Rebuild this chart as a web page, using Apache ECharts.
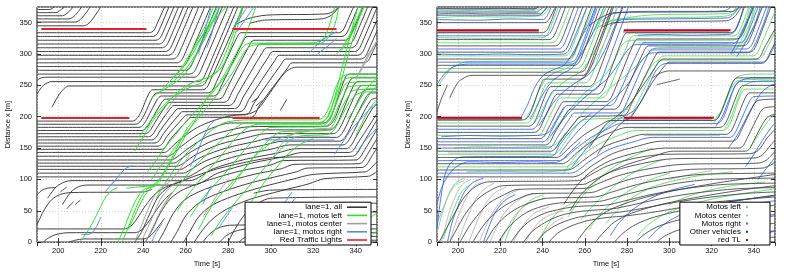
<!DOCTYPE html>
<html><head><meta charset="utf-8">
<script src="https://cdn.jsdelivr.net/npm/echarts@6/dist/echarts.min.js"></script>
<style>html,body{margin:0;padding:0;background:#fff}#c{width:789px;height:273px}</style>
</head><body><div id="c"></div>
<script>
// ---------- LEFT PANEL (lane=1) : trajectories as [t,x,t,x,...] ----------
const leftAll = [
[190,371,196,371,198,375],[190,366,199,366,201,370,203,375],[190,361,202,361,204.5,366,207,375],
[190,356,205,356,208,362,211,375],[190,351,208,351,211,357,215,375],[190,345,212,345,215,351,220,375],
[190,334,243,334,245,338,247,352,250,375],[190,328,244.5,328,246.5,332,248.5,346,252.1,375],
[190,322,246,322,248,326,250,340,254.4,375],[190,316,247.5,316,249.5,320,251.5,334,256.6,375],
[190,310,249,310,251,314,253,328,258.9,375],[190,304,250.5,304,252.5,308,254.5,322,261.1,375],
[190,298,252,298,254,302,256,316,263.4,375],[190,292,254,292,256,296,258,310,266.1,375],
[190,286,256,286,258,290,260,304,268.9,375],[190,280,258,280,260,284,262,298,271.6,375],
[190,274,260,274,262,278,264,292,274.4,375],[190,268,262,268,264,272,266,286,277.2,375],
[190,258,192,262,195,263,264,263,266,267,268,281,279.8,375],
[190,236,193,250,197,256,266,256,268,260,270,274,282.6,375],
[197,215,201,238,205,249,267,249,269,253,271,267,284.5,375],
[190,193,235,193,237,197,239,208,242.5,236,244.5,243,268,243,270,247,272,261,287,375],
[190,188,236.5,188,238.5,192,240.5,203,244.5,232,246.5,238,270.5,238,272.5,242,274.5,256,284,326,286,334,332,334,334,338,336,352,338.9,375],
[190,183,238,183,240,187,242,198,246.5,227,248.5,233,273,233,275,237,277,251,287,320,289,328,333.5,328,335.5,332,337.5,346,341.1,375],
[190,178,239.5,178,241.5,182,243.5,193,248.5,222,250.5,228,275.5,228,277.5,232,279.5,246,290,314,292,322,335,322,337,326,339,340,343.4,375],
[190,173,241,173,243,177,245,188,250.5,217,252.5,223,278,223,280,227,282,241,293,308,295,316,336.5,316,338.5,320,340.5,334,345.6,375],
[190,168,242.5,168,244.5,172,246.5,183,252.5,212,254.5,218,280.5,218,282.5,222,284.5,236,296,302,298,310,338,310,340,314,342,328,347.9,375],
[190,163,244,163,246,167,248,178,254.5,207,256.5,213,283,213,285,217,287,231,299,296,301,304,339.5,304,341.5,308,343.5,322,350.1,375],
[190,158,245.5,158,247.5,162,249.5,173,256.5,202,258.5,208,285.5,208,287.5,212,289.5,226,302,290,304,298,341,298,343,302,345,316,350,354],
[190,153,247,153,249,157,251,168,258.5,197,260.5,203,288,203,290,207,292,221,305,284,307,292,342.5,292,344.5,296,346.5,310,350,337],
[190,148,248.5,148,250.5,152,252.5,163,260.5,193,262.5,199,290.5,199,292.5,203,294.5,217,308,278,310,286,344,286,346,290,348,304,350,318],
[190,143,250,143,252,147,256,160,264,180,270,190,276,197,282,202,290,205,294,212,300,240,306,268,309,276,312,279,350,279],
[190,137,251.5,137,254,141,258,153,266,172,274,184,281,190,325,190,327,194,329,205,335,262,337,268,350,268],
[190,131,253,131,256,136,261,149,270,168,280,178,290,184,326.5,185,328.5,189,330.5,200,337,256,339,262,350,262],
[190,126,254.5,126,257,131,263,145,273,162,284,172,294,179,328,179,330,183,332,194,339,250,341,256,350,256],
[190,121,256,121,259,126,265,140,276,156,288,166,298,173,329.5,173,331.5,177,333.5,188,341,244,343,250,350,250],
[190,116,257.5,116,260.5,121,267,135,279,150,292,160,302,167,331,167,333,171,335,182,343,238,345,244,350,244],
[190,110,259,110,262,115,269,129,282,144,296,154,306,161,332.5,161,334.5,165,336.5,176,345,232,347,238,350,238],
[190,104,260.5,104,264,109,271,123,285,138,300,148,309,155,334,155,336,159,338,170,347,226,350,230],
[195,70,199,88,203,96,206,98,262,98,266,103,273,117,288,132,303,142,312,149,335.5,149,337.5,153,339.5,164,348,214,350,220],
[202,60,206,80,210,89,214,91,264,91,268,96,275,110,291,126,306,136,315,143,337,143,339,147,341,158,350,205],
[236,0,239,15,243,45,247,72,252,88,260,100,275,117,292,130,302,135,338.5,137,340.5,141,342.5,152,350,195],
[241,0,244,18,248,46,253,70,259,84,270,98,285,113,300,123,306,130,340,131,342,135,344,146,350,180],
[247,0,250,18,254,45,259,66,266,80,278,95,292,108,305,117,311,124,341.5,125,343.5,129,345.5,140,350,165],
[253,0,256,17,260,42,266,62,274,76,288,92,302,104,312,112,317,118,343,119,345,123,347,134,350,150],
[259,0,262,17,266,40,272,58,282,73,296,88,310,100,320,108,344.5,112,346.5,116,350,128],
[264,0,267,15,272,35,279,52,290,68,305,82,318,93,325,101,346,105,348,108,350,113],
[268,0,271,12,275,22,281,27,350,28],[276,0,279,10,283,17,289,21,350,21],
[285,0,288,8,292,13,297,15,350,15],[294,0,297,5,301,8,350,9],[303,0,306,2,310,3,350,3],
[280,0,283,20,288,45,294,62,300,70,350,72],[288,0,291,18,296,40,302,54,308,60,350,62],
[296,0,299,15,304,32,310,42,316,47,350,48],[292,78,300,83,350,84],
[190,21,231,21,234,25,237,37,241,58,246,78,252,90,258,96],
[193,0,196,8,200,13,205,15,236,15,239,19,242,30,246,50,250,68,254,80],
[205,0,208,3,212,5,240,5,243,9,246,20,250,38],
[190,28,193.5,52,197,68,201,76,206,79,240,80,244,84],
[190,75,192,82,195,86,199,87],
[201,80,204,88],[204,53,207.3,65],[208,60,210.4,67],[291,223,294.3,231],[293,217,296,226],[304.5,210,307.6,228],
[283,346,289,356,298,362,326,364,330,369,332,375],[290,349,297,354,324,356,329,363,332,375]
];
const leftMotoLeft = [
[210,0,214,18,218,43,222,70,225,82,228,87],
[228,0,231,22,234,48,237,70,240,83,243,88,247,98,252,125,257,158,261,183,264,195],
[230,0,233,24,236,50,239,72,242,85,246,92,250,110,255,140,260,170,265,198,270,230,276,255,282,290,288,330,293,375],
[233,20,236,42,240,70,244,87,248,92],
[236,145,239,162,242,180,245,196,249,212,253,228,258,244,264,256,270,262,276,275,280,300,284,340,287,375],
[238,168,241,182,245,200,250,220,256,236,262,247,268,255,274,270,278,295,282,330,285,360,286.5,375],
[242,112,246,130,250,150,255,170,260,192,266,214,272,236,278,262,283,290,287,312,290,317,320,318,324,322,327,340,330,375],
[244,100,248,120,253,142,258,165,264,190,270,215,276,240,282,270,287,300,290,312,295,315,322,316,326,322,330,345,332,375],
[246,70,250,92,255,118,260,140,266,160,272,178,278,190,284,194,290,195,322,195,325,200,328,220,331,250,334,265,340,268,350,268],
[250,60,254,80,259,100,264,120,270,140,276,160,282,178,288,190,323,191,326,197,329,218,332,245,335,260,340,263,350,263],
[256,50,260,70,265,92,270,112,276,135,282,160,288,180,294,188,324,188,327,194,330,215,333,238,336,254,350,256],
[262,40,266,60,271,82,277,104,283,128,289,152,295,172,300,183,325,184,328,190,331,210,334,232,337,248,350,250],
[266,20,270,45,275,70,281,92,287,115,293,140,299,162,305,176,326,178,329,185,332,205,336,230,339,242,350,244],
[272,10,276,32,282,58,288,82,294,106,300,130,306,152,312,168,327,172,330,180,334,205,338,228,342,238,350,240],
[248,240,252,255,256,268,260,284,264,305,268,330,272,355,275,375],
[252,250,256,262,260,276,264,295,268,318,272,345,276,375],
[244,230,248,240,252,248,258,262,262,280,266,305,270,335,274,362,276,375],
[324,190,327,200,330,230,333,270,336,310,339,350,341,375],
[325,186,328,196,331,228,334,268,337,305,340,340,343,375],
[331,300,334,312,337,330,340,352,343,375],[333,305,336,318,339,338,342,360,344,375],
[336,196,339,210,342,228,345,244,348,256,350,262],[338,190,341,205,344,222,347,238,350,250],
[340,170,343,190,346,210,350,228],[337,0,340,15,344,30,348,42,350,46],[345,0,348,12,350,18],
[280,82,284,100,288,118,292,135,297,150,302,162,310,172,318,177],
[290,60,294,80,298,100,303,120,308,140,314,156,320,165],
[232,86,238,88,244,90,248,92],
[262,300,266,320,270,340,275,360,279,375],[254,262,258,278,262,300,266,325,270,350,273,375]
];
const leftMotoCenter = [
[236,0,239,25,242,50,245,72,248,86,252,95,257,115,262,140],
[239,0,242,22,245,45,248,68,252,85,256,98],
[241,0,244,20,247,42,250,62,254,80],
[268,40,272,60,276,82,280,100],
[298,120,302,140,306,160,312,175,320,180,330,182],
[340,260,343,280,346,300,350,320],[342,270,345,290,348,310,350,322],
[251,210,254,225,258,240,262,252,266,258],
[300,168,328,168]
];
const leftMotoRight = [
[211,12,215,13,218,25,220,40],[226,95,229,108,232,118,235,122],[222,80,225,92,227,100],
[244,0,246,15,249,30],[262,120,265,140,268,165,271,185,274,195],
[266,300,268,325,270,350,272,375],[270,310,272,330,274,355,276,375],
[282,340,285,355,288,370,289,375],[284,335,287,350,290,365,292,375],
[318,302,321,312,324,322,328,330,331,336],[322,300,325,308,328,316,331,325],
[298,20,302,40,306,60,310,80],[300,15,304,35,308,55,312,72],
[297,163,330,163],[330,140,334,160,338,180,342,195,346,210,350,222],
[340,140,344,160,348,175,350,182],[340,0,343,10,346,18],
[276,25,279,40,282,55],[268,60,270,75,272,90]
];
const leftRedLights = [[192,198,233.5,198],[282,198,323,198],[192,340,241.5,340],[282,340,331,340]];

// ---------- RIGHT PANEL ----------
const rightMotoLeft = [
[190,370,200,369,212,370,225,369,237,370,239,375],
[190,358,205,360,220,359,235,360,240,362,242,368,243,375],
[190,318,244.5,318,246.5,322,248.5,336,253,375],
[190,297,250.5,297,252.5,301,254.5,315,261,375],
[190,277,256.5,277,258.5,281,260.5,295,270,375],
[190,246,194,266,198,280,205,288,252,289,254,293,256,307,264,375],
[190,326,215,325,240,326,242,330,244,345,247.5,375],
[190,190,232.3,190,234.3,194,236.3,207,240.5,245,242.5,254,260,254,262,258,264,272,275.5,375],
[190,170,237.5,170,239.5,174,241.5,187,246.5,222,248.5,230,268,230,270,234,272,248,281,321,283,329,330.5,329,332.5,333,334.5,347,337.5,375],
[190,140,245.3,140,247.3,144,250,157,256,185,259,195,280,198,282,202,284,216,295,290,297,297,339.5,297,341.5,301,343.5,315,350,368],
[190,120,250.5,120,253.5,124,258,137,267,157,276,170,284,178,325.5,178,327.5,182,329.5,195,334,237,336,244,350,244],
[232,196,235,215,238,240,242,262,247,272,252,278,256,290,260,310,264,335,268,360,270,375],
[236,190,239,205,243,230,248,250,253,262,258,272,262,290,266,315,270,345,273,375],
[242,160,246,180,250,200,255,220,260,238,265,252,270,268,274,290,278,316,282,322,330,322,333,330,336,350,338,375],
[246,150,250,168,255,190,260,210,266,228,272,246,278,262,284,280,290,300,294,310,332,311,335,320,338,345,340,375],
[250,110,254,130,259,150,265,170,272,190,278,205,283,228,288,260,292,283,295,290,342,291,344,296,347,315,350,335],
[222,0,225,25,228,45,232,60,236,70,240,75],[238,0,241,20,245,40,250,55,256,65],
[262,20,266,40,272,60,280,80,290,98,300,110],[270,30,275,50,282,70,292,88,305,100,318,108,330,112],
[285,10,290,28,298,45,310,60,325,72,340,80,350,85],[300,60,308,72,318,82,330,90,345,96],
[321,190,324,205,327,230,330,255,333,265,340,268,350,268],[326,180,329,198,332,225,335,248,340,256,350,258],
[330,300,333,315,336,335,339,355,341,375],[334,310,337,325,340,345,342,360,344,375],
[338,150,342,170,346,190,350,205],
[270,350,276,356,300,358,325,360,330,364,333,375],[265,340,272,352,290,362,328,365,332,375],
[280,194,320,194,322,198,325,212,330,250,333,258,350,260],
[252,40,256,60,261,82,268,105,276,125,285,140,292,150],[258,35,263,55,270,78,278,100,287,118,297,132],
[190,30,193,55,196,78,199,92,203,98],[193,5,196,35,199,62,202,82,206,92],
[198,150,210,152,222,151,236,152,244,153,247,158,251,175],[204,112,218,113,232,112,250,114,254,120,258,132]
];
const rightMotoCenter = [
[190,15,192,40,194,62,196,80,199,95,203,102],[192,0,194,25,196,50,199,75,202,92,206,100],
[196,0,198,22,201,50,204,72,207,88,211,96],[200,0,203,28,206,52,209,72,213,86,217,94],
[205,0,208,25,211,48,214,66,218,80,223,88],[210,0,213,24,216,45,220,64,224,76,229,84],
[215,0,218,22,221,42,225,58,230,70,236,78],[220,0,223,20,226,38,230,54,235,64,241,70],
[226,0,229,18,233,36,237,48,243,56],[232,0,235,18,239,34,244,44,250,50],[238,0,241,16,245,30,250,40],
[190,195.5,230,195.5],[278,195.5,320,195.5],[190,335.5,238,335.5],[278,335.5,328,335.5],
[285,318,328,318],[290,306,331,306],[283,182,322,182],[288,170,324,170],[195,142,244,142],
[252,230,256,250,260,268,264,285,268,310,272,340,275,375],[300,100,310,108,320,114]
];
const rightMotoRight = [
[190,373,205,372,220,373,236,372,238,375],[190,364,200,365,215,364,230,365,239,365,241,370,242,375],
[190,355,210,354,225,356,240,355,242,360,244,375],
[190,329,241.5,329,243.5,333,245.5,347,248.7,375],[190,308,247.5,308,249.5,312,251.5,326,257,375],
[190,287,253.5,287,255.5,291,257.5,305,265.3,375],
[190,252,194,270,198,280,205,284,254,284,256,288,258,302,266,375],
[190,300,205,299,220,300,235,299,250,300,252,304,254,318,261,375],
[190,180,234.9,180,236.9,184,238.9,197,243.5,234,245.5,242,264,242,266,246,268,260,280.6,375],
[190,160,240.1,160,242.1,164,244.1,177,249.5,210,251.5,218,272,218,274,222,276,236,286,310,288,318,333.5,318,335.5,322,337.5,336,342,375],
[190,150,242.7,150,244.7,154,247,167,253,198,255,206,276,206,278,210,280,224,290,300,292,308,336.5,308,338.5,312,340.5,326,346,375],
[190,130,247.9,130,250.5,134,255,147,263,167,271,181,277,189,322.5,189,324.5,193,326.5,206,331,249,333,256,350,256],
[190,110,253.1,110,256.5,114,261.5,127,271,147,282,159,292,167,328.5,167,330.5,171,332.5,184,338,225,340,232,350,233],
[190,23,192,75,194,110,197,128,202,136,244,137,246,141,248,155,254,180,258,192,263,205],
[230,200,233,220,236,245,240,265,245,275,250,282,254,300,258,325,262,350,265,375],
[234,196,237,215,240,235,244,255,249,268,254,278,258,298,262,322,266,350,269,375],
[238,185,241,200,245,222,250,240,256,255,262,268,266,285,270,310,273,335,276,360,277.5,375],
[244,170,248,188,253,208,259,228,265,245,271,262,276,285,280,305,284,315,330,316,333,325,336,345,339,375],
[248,140,252,158,257,178,263,198,269,215,275,232,281,255,286,285,290,300,294,302,337,302,340,312,343,335,346,362,347,375],
[254,120,258,138,263,158,269,178,276,196,284,212,289,240,293,270,296,282,299,285,344,285,347,295,350,315],
[190,60,192,85,195,105,199,120,205,128,220,127,235,128,246,127,249,131,253,144,258,160],
[195,0,197,30,200,58,203,80,207,95,212,102],[212,0,215,28,218,50,222,66,227,76],
[322,185,325,200,328,225,331,248,334,258,340,262,350,262],[328,150,332,170,336,195,340,220,344,240,348,250,350,252],
[336,120,340,140,344,162,348,182,350,190],[342,100,346,118,350,135],
[329,300,332,318,335,340,338,360,340,375],[332,296,335,312,338,330,341,352,343,375],
[272,10,276,30,282,50,290,68,300,82,312,92],[290,5,295,22,302,38,312,52,325,62,340,70,350,74],
[310,20,316,35,324,48,335,58,350,66],[320,0,324,12,330,24,338,34,350,42],[340,0,344,10,350,18],
[272,345,278,355,300,356,320,357,328,358,331,366,333,375],[268,352,274,365,290,368,320,368,327,370,329,375],
[285,330,295,331,310,330,325,331,329,332,331,336,333,350,335,375],
[192,168,205,170,220,169,235,170,240,171,243,176,246,192,250,215]
];
const rightOther = [
[190,372,236,372,238,375],[190,367,237,367,239,371,240.5,375],[190,362,238,362,240,366,242,375],
[190,350,241,350,243,355,246,375],
[190,334,240,334,242,338,244,352,246.5,375],[190,323,243,323,245,327,247,341,250.8,375],
[190,313,246,313,248,317,250,331,254.9,375],[190,303,249,303,251,307,253,321,259,375],
[190,292,252,292,254,296,256,310,263.2,375],[190,282,255,282,257,286,259,300,267.3,375],
[190,271,258,271,260,275,262,289,271.5,375],
[196,230,200,255,204,264,207,266,259.5,266,261.5,270,263.5,284,273.6,375],
[190,195,231,195,233,199,235,212,239,250,241,260,258,260,260,264,262,278,272.8,375],
[190,185,233.6,185,235.6,189,237.6,202,242,240,244,248,262,248,264,252,266,266,278,375],
[190,175,236.2,175,238.2,179,240.2,192,245,228,247,236,266,236,268,240,270,254,278,326,280,334,329,334,331,338,333,352,335.5,375],
[190,165,238.8,165,240.8,169,242.8,182,248,216,250,224,270,224,272,228,274,242,283,316,285,324,332,324,334,328,336,342,339.7,375],
[190,155,241.4,155,243.4,159,245.4,172,251,204,253,212,274,212,276,216,278,230,288,305,290,313,335,313,337,317,339,331,343.9,375],
[190,145,244,145,246,149,248.5,162,255,190,258,200,278,202,280,206,282,220,293,295,295,303,338,303,340,307,342,321,348,375],
[190,135,246.6,135,249,139,253,152,260,172,267,186,272,194,321,194,323,198,325,211,330,255,332,262,350,262],
[190,125,249.2,125,252,129,256,142,264,162,273,176,280,183,324,183,326,187,328,200,333,243,335,250,350,250],
[190,115,251.8,115,255,119,260,132,269,152,279,164,288,172,327,172,329,176,331,189,336,231,338,238,350,238],
[190,104,254.4,104,258,108,263,121,273,141,285,153,296,161,330,161,332,165,334,178,340,219,342,226,350,228],
[262,150,266,170,270,188,274,198,280,215,290,262,295,287,297,292,341,292,343,296,345,310,350,340],
[266,140,270,160,274,178,278,192,282,200,292,255,298,282,300,287,344,287,346,291,348,305,350,318],
[250,60,255,85,262,110,272,130,285,143,298,150,333,150,335,154,337,167,343,207,345,214,350,216],
[253,50,258,75,266,100,277,120,290,134,302,145,336,145,338,149,340,162,346,198,350,204],
[262,345,266,355,270,362,274,366,330,368,332,372,333,375],[268,343,274,350,300,352,327,353,331,360,334,375],
[292,262,296,270,300,273,350,273],
[191,0,195,25,199,50,203,72,208,88,214,96,257,98,262,106,271,122,284,134,298,140,338,141,342,146,346,165,350,180],
[196,0,200,25,204,48,209,68,215,82,221,90,259,92,264,99,274,114,288,126,302,133,340,134,344,139,348,155,350,162],
[201,0,205,24,210,46,215,63,222,76,228,84,261,86,266,93,277,107,292,118,306,124,342,126,346,131,350,145],
[207,0,211,22,216,42,222,58,229,70,235,77,263,79,269,86,281,100,296,110,310,116,344,118,348,123,350,128],
[213,0,217,22,222,40,228,54,235,64,242,70,265,72,272,79,285,92,300,102,315,108,350,110],
[219,0,223,20,228,37,234,50,242,59,250,63,267,65,275,72,289,84,304,94,320,100,350,102],
[225,0,229,18,234,34,241,46,249,53,257,57,270,59,278,65,293,77,309,86,326,92,350,94],
[231,0,235,17,241,31,248,42,256,48,264,51,273,53,282,59,297,70,314,79,332,85,350,87],
[237,0,241,15,247,28,255,38,263,43,271,46,277,48,286,53,302,63,320,72,338,78,350,80],
[243,0,247,14,253,25,261,34,270,39,280,42,291,47,307,56,325,65,350,72],
[256,0,260,18,265,36,272,52,285,68,302,82,322,94,340,103,350,108],
[265,0,269,16,274,32,282,46,296,60,314,72,334,83,350,90],
[274,0,278,14,284,28,293,40,308,52,326,63,344,72,350,75],
[284,0,288,12,294,24,304,35,320,45,338,54,350,59],
[294,0,298,10,305,20,316,29,332,37,350,44],[305,0,310,8,318,16,330,23,350,30],
[318,0,323,6,332,12,350,18],[330,0,336,4,350,8],
[190,207,192,228,195,251],[294,251,300,256,305,260]
];
const rightRedLights = [[190,198.5,230.2,198.5],[278.5,198.5,321,198.5],[190,338,238.2,338],[278.5,338,329,338]];

// ---------- chart ----------
const FONT = 'Liberation Sans, Arial, sans-serif';
const series = [];
function addSet(list, name, color, width, idx){
  list.forEach(f => {
    const d = [];
    for (let i = 0; i < f.length; i += 2) d.push([f[i], f[i+1]]);
    series.push({type:'line', name, xAxisIndex:idx, yAxisIndex:idx, data:d, symbol:'none', showSymbol:false,
      smooth:0.3, lineStyle:{color, width}, itemStyle:{color}, silent:true, animation:false});
  });
}
addSet(leftAll, 'lane=1, all', '#383838', 0.95, 0);
addSet(leftMotoLeft, 'lane=1, motos left', '#2ee02e', 1, 0);
addSet(leftMotoCenter, 'lane=1, motos center', '#a0a0a0', 1, 0);
addSet(leftMotoRight, 'lane=1, motos right', '#5b87f5', 1, 0);
addSet(leftRedLights, 'Red Traffic Lights', '#e8202a', 2, 0);
addSet(rightMotoLeft, 'Motos left', '#5bdc6a', 0.9, 1);
addSet(rightMotoCenter, 'Motos center', '#b4b4b4', 0.9, 1);
addSet(rightMotoRight, 'Motos right', '#3a6af0', 0.9, 1);
addSet(rightOther, 'Other vehicles', '#404040', 0.85, 1);
addSet(rightRedLights, 'red TL', '#c8001e', 2, 1);
series.forEach(s => { if (s.name === 'Motos center' && s.data.length === 2 && (s.data[0][1] === 195.5 || s.data[0][1] === 335.5)) s.lineStyle.width = 3; });

const lab = {fontSize:7.5, color:'#111', fontFamily:FONT};
function xAx(gi, top){
  return {type:'value', gridIndex:gi, min:190, max:350, splitNumber:8, position: top ? 'top' : 'bottom',
    axisLine:{show:false}, axisTick:{show:true, inside:true, length:4, lineStyle:{color:'#000', width:0.8}},
    axisLabel: top ? {show:false} : Object.assign({margin:5, showMinLabel:false, showMaxLabel:false}, lab),
    splitLine:{show:!top, lineStyle:{color:'#c8c8c8', type:[1,2], width:0.8}},
    name: top ? '' : 'Time [s]', nameLocation:'middle', nameGap:14, nameTextStyle:lab};
}
function yAx(gi, right){
  return {type:'value', gridIndex:gi, min:0, max:375, interval:50, position: right ? 'right' : 'left',
    axisLine:{show:false}, axisTick:{show:true, inside:true, length:4, lineStyle:{color:'#000', width:0.8}},
    axisLabel: right ? {show:false} : Object.assign({margin:5, showMaxLabel:false}, lab),
    splitLine:{show:!right, lineStyle:{color:'#c8c8c8', type:[1,2], width:0.8}},
    name: right ? '' : 'Distance x [m]', nameLocation:'middle', nameGap:25, nameTextStyle:lab};
}
const option = {
  backgroundColor:'#fff', animation:false,
  grid:[
    {left:37, right:412, top:7, bottom:25, show:true, borderColor:'#000', borderWidth:1, backgroundColor:'transparent'},
    {left:437, right:14, top:7, bottom:25, show:true, borderColor:'#000', borderWidth:1, backgroundColor:'transparent'}
  ],
  xAxis:[xAx(0,false), xAx(1,false), xAx(0,true), xAx(1,true)],
  yAxis:[yAx(0,false), yAx(1,false), yAx(0,true), yAx(1,true)],
  legend:[
    {orient:'vertical', right:418, bottom:28, align:'right', itemWidth:20, itemHeight:1.6, itemGap:0.2,
     icon:'rect', padding:[1,4,1,22], backgroundColor:'#fff', borderColor:'#000', borderWidth:1, selectedMode:false,
     textStyle:{fontSize:8, lineHeight:7.2, color:'#000', fontFamily:FONT},
     data:['lane=1, all','lane=1, motos left','lane=1, motos center','lane=1, motos right','Red Traffic Lights']},
    {orient:'vertical', right:19, bottom:28, align:'right', itemWidth:2, itemHeight:2, itemGap:0.2,
     padding:[1,22,1,10], backgroundColor:'#fff', borderColor:'#000', borderWidth:1, selectedMode:false,
     icon:'rect', textStyle:{fontSize:8, lineHeight:7.2, color:'#000', fontFamily:FONT},
     data:['Motos left','Motos center','Motos right','Other vehicles','red TL']}
  ],
  series
};
const chart = echarts.init(document.getElementById('c'), null, {renderer:'canvas'});
chart.setOption(option);
</script></body></html>
